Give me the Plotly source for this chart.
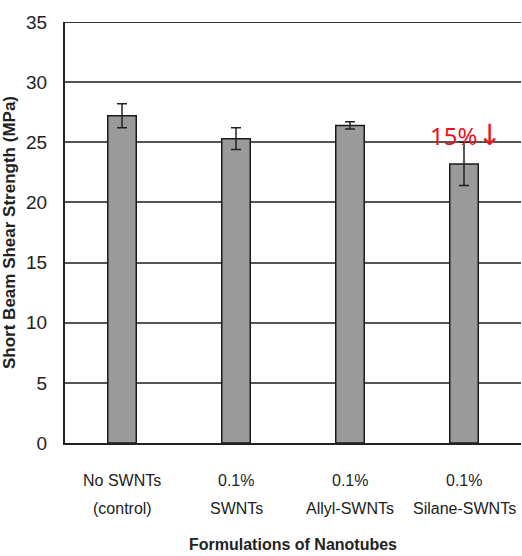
import plotly.graph_objects as go

categories = ["No SWNTs", "0.1% SWNTs", "0.1% Allyl-SWNTs", "0.1% Silane-SWNTs"]
label_line1 = ["No SWNTs", "0.1%", "0.1%", "0.1%"]
label_line2 = ["(control)", "SWNTs", "Allyl-SWNTs", "Silane-SWNTs"]
strength = [27.2, 25.3, 26.4, 23.2]
error = [1.0, 0.9, 0.3, 1.8]
y_ticks = [0, 5, 10, 15, 20, 25, 30, 35]

NARROW = "Liberation Sans Narrow, Arial Narrow, sans-serif"

fig = go.Figure()
fig.add_trace(go.Bar(
    x=categories, y=strength, width=0.25,
    marker=dict(color="#9a9a9a", line=dict(color="#1a1a1a", width=1.5)),
    error_y=dict(type="data", array=error, visible=True, color="#222", thickness=1.5, width=5),
))

fig.update_layout(
    width=522, height=556,
    margin=dict(l=65, r=1, t=22, b=113),
    paper_bgcolor="white", plot_bgcolor="white",
    showlegend=False,
    xaxis=dict(showticklabels=False, showline=True, linecolor="#222", linewidth=2,
               range=[-0.5, 3.5], fixedrange=True),
    yaxis=dict(range=[0, 35], tickvals=y_ticks, showgrid=True, gridcolor="#555", gridwidth=1.5,
               showline=True, linecolor="#222", linewidth=2, zeroline=False,
               tickfont=dict(family=NARROW, size=19, color="#222"),
               ticks="outside", ticklen=0, ticklabelstandoff=12,
               title=dict(text="<b>Short Beam Shear Strength (MPa)</b>",
                          font=dict(family="Liberation Sans, Arial, sans-serif", size=17, color="#222"),
                          standoff=12)),
)

# top border
fig.add_shape(type="line", xref="paper", yref="y", x0=0, x1=1, y0=35, y1=35,
              line=dict(color="#333", width=2))

for c, l1, l2 in zip(categories, label_line1, label_line2):
    fig.add_annotation(x=c, y=-0.115, xref="x", yref="paper", text=l1, showarrow=False,
                       font=dict(family=NARROW, size=16, color="#222"))
    fig.add_annotation(x=c, y=-0.18, xref="x", yref="paper", text=l2, showarrow=False,
                       font=dict(family=NARROW, size=16, color="#222"))

fig.add_annotation(x=0.5, y=-0.265, xref="paper", yref="paper",
                   text="<b>Formulations of Nanotubes</b>", showarrow=False,
                   font=dict(family=NARROW, size=16, color="#222"))

fig.add_annotation(x=categories[3], y=strength[3] + error[3] + 0.6, xref="x", yref="y",
                   text="15%<span style='font-family:DejaVu Sans;font-size:29px'>↓</span>",
                   showarrow=False, xshift=2,
                   font=dict(family="Noto Sans, sans-serif", size=24, color="#e8141b"))

fig.write_html("out.html")
